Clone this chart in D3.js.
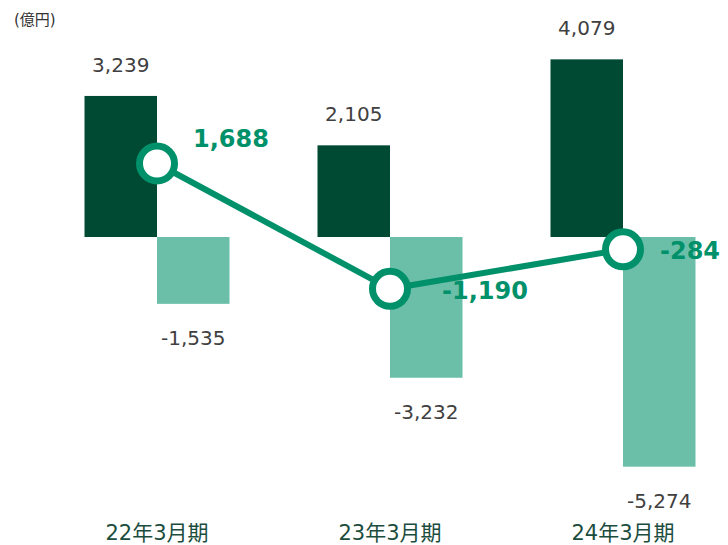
<!DOCTYPE html>
<html lang="ja">
  <head>
    <meta charset="UTF-8" />
    <title>cashflow</title>
    <style>
      body { margin: 0; background: #fff; }
      svg { display: block; }
    </style>
  </head>
  <body>
    <div id="wrapper"></div>
    <script src="https://cdn.jsdelivr.net/npm/d3@7"></script>
    <script>
      // data
      var categories = ["22年3月期", "23年3月期", "24年3月期"];
      var inflow = [3239, 2105, 4079];     // dark bars
      var outflow = [-1535, -3232, -5274]; // light bars
      var net = [1688, -1190, -284];       // line
      var unitLabel = "(億円)";

      var width = 728, height = 545;
      var barW = 72.5;
      var netDx = [36, 52, 37]; // label offsets for the line labels

      var svg = d3.select("#wrapper")
        .append("svg")
          .attr("width", width)
          .attr("height", height);

      var x = d3.scalePoint()
        .domain(categories)
        .range([157, 623]);

      var y = d3.scaleLinear()
        .domain([-6000, 5000])
        .range([498.3, 19.25]);

      // plain hyphen for negatives
      var fmt = d3.formatLocale({ decimal: ".", thousands: ",", grouping: [3], currency: ["", ""], minus: "-" }).format(",");
      var numFont = "'DejaVu Sans', Verdana, sans-serif";

      // unit label
      svg.append("text")
        .attr("x", 14)
        .attr("y", 25)
        .style("font-family", "'DejaVu Sans', 'Noto Sans CJK JP', sans-serif")
        .style("font-size", "15px")
        .style("fill", "#333")
        .text(unitLabel);

      // dark bars (positive)
      svg.selectAll("rect.pos")
        .data(inflow)
        .enter()
        .append("rect")
          .attr("class", "pos")
          .attr("x", function (d, i) { return x(categories[i]) - barW; })
          .attr("y", function (d) { return y(d); })
          .attr("width", barW)
          .attr("height", function (d) { return y(0) - y(d); })
          .style("fill", "#004a33");

      // light bars (negative)
      svg.selectAll("rect.neg")
        .data(outflow)
        .enter()
        .append("rect")
          .attr("class", "neg")
          .attr("x", function (d, i) { return x(categories[i]); })
          .attr("y", y(0))
          .attr("width", barW)
          .attr("height", function (d) { return y(d) - y(0); })
          .style("fill", "#6bbfa9");

      // bar value labels
      svg.selectAll("text.pos")
        .data(inflow)
        .enter()
        .append("text")
          .attr("class", "pos")
          .attr("x", function (d, i) { return x(categories[i]) - barW / 2; })
          .attr("y", function (d) { return y(d) - 24; })
          .attr("text-anchor", "middle")
          .style("font-family", numFont)
          .style("font-size", "20px")
          .style("fill", "#404040")
          .text(function (d) { return fmt(d); });

      svg.selectAll("text.neg")
        .data(outflow)
        .enter()
        .append("text")
          .attr("class", "neg")
          .attr("x", function (d, i) { return x(categories[i]) + barW / 2; })
          .attr("y", function (d) { return y(d) + 41; })
          .attr("text-anchor", "middle")
          .style("font-family", numFont)
          .style("font-size", "20px")
          .style("fill", "#404040")
          .text(function (d) { return fmt(d); });

      // net line
      var line = d3.line()
        .x(function (d, i) { return x(categories[i]); })
        .y(function (d) { return y(d); });

      svg.append("path")
        .datum(net)
        .attr("d", line)
        .style("fill", "none")
        .style("stroke", "#00916a")
        .style("stroke-width", 6);

      svg.selectAll("circle")
        .data(net)
        .enter()
        .append("circle")
          .attr("cx", function (d, i) { return x(categories[i]); })
          .attr("cy", function (d) { return y(d); })
          .attr("r", 17.5)
          .style("fill", "#fff")
          .style("stroke", "#00916a")
          .style("stroke-width", 7);

      svg.selectAll("text.net")
        .data(net)
        .enter()
        .append("text")
          .attr("class", "net")
          .attr("x", function (d, i) { return x(categories[i]) + netDx[i]; })
          .attr("y", function (d) { return y(d) + (d >= 0 ? -16 : 10); })
          .style("font-family", numFont)
          .style("font-size", "24px")
          .style("font-weight", "bold")
          .style("fill", "#00916a")
          .text(function (d) { return fmt(d); });

      // category labels
      svg.selectAll("text.cat")
        .data(categories)
        .enter()
        .append("text")
          .attr("class", "cat")
          .attr("x", function (d) { return x(d); })
          .attr("y", 540)
          .attr("text-anchor", "middle")
          .style("font-family", "'DejaVu Sans', 'Noto Sans CJK JP', sans-serif")
          .style("font-size", "21px")
          .style("fill", "#1b4d3e")
          .text(function (d) { return d; });
    </script>
  </body>
</html>
